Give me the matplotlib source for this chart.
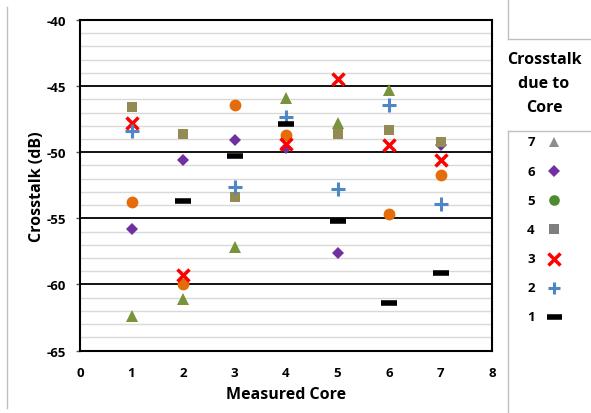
import numpy as np
import matplotlib
matplotlib.use("Agg")
import matplotlib.pyplot as plt
from matplotlib.lines import Line2D

plt.rcParams['font.family'] = ['Open Sans', 'DejaVu Sans']
plt.rcParams['font.weight'] = 'bold'
plt.rcParams['axes.unicode_minus'] = False

measured = [1, 2, 3, 4, 5, 6, 7]
nan = np.nan

# crosstalk (dB) on each measured core, due to core k
due_to = {
    7: [-62.4, -61.1, -57.2, -45.9, -47.8, -45.3, nan],
    6: [-55.8, -50.6, -49.1, -49.7, -57.6, nan, -49.45],
    5: [-53.8, -59.95, -46.4, -48.7, nan, -54.7, -51.7],
    4: [-46.6, -48.6, -53.4, nan, -48.6, -48.3, -49.2],
    3: [-47.8, -59.3, nan, -49.4, -44.5, -49.45, -50.6],
    2: [-48.4, nan, -52.6, -47.3, -52.75, -46.4, -53.9],
    1: [nan, -53.7, -50.25, -47.9, -55.2, -61.4, -59.1],
}

# marker, size, plot colour, legend colour, edge width
styles = {
    7: ('^', 8.5, '#77933C', '#8C8C8C', 0),
    6: ('D', 6.3, '#7030A0', '#7030A0', 0),
    5: ('o', 8.5, '#E46C0A', '#4E8A2E', 0),
    4: ('s', 7.5, '#948A54', '#7F7F7F', 0),
    3: ('x', 9, '#FF0000', '#FF0000', 2.5),
    2: ('+', 10, '#4F86C6', '#4F86C6', 2.2),
    1: ('_', 12, '#000000', '#000000', 4),
}

W, H = 591, 414
fig = plt.figure(figsize=(W / 100, H / 100), dpi=100)

ax = fig.add_axes([80 / W, 1 - 351.5 / H, 412 / W, 330.5 / H])
for k, vals in due_to.items():
    m, ms, c, lc, mew = styles[k]
    if mew:
        ax.plot(measured, vals, ls='none', marker=m, ms=ms, mec=c, mew=mew, zorder=3)
    else:
        ax.plot(measured, vals, ls='none', marker=m, ms=ms, mfc=c, mec=c, mew=0, zorder=3)

ax.set_xlim(0, 8)
ax.set_ylim(-65, -40)
ax.set_xticks(range(0, 9))
ax.set_yticks(range(-65, -39, 5))
ax.set_yticks(range(-65, -39, 1), minor=True)
ax.grid(which='minor', axis='y', color='#D9D9D9', lw=1)
ax.grid(which='major', axis='y', color='black', lw=1.3)
ax.tick_params(axis='y', which='minor', length=0)
ax.tick_params(axis='y', which='major', length=3, width=1, color='#595959', pad=7, labelsize=9.5)
ax.tick_params(axis='x', length=0, pad=11, labelsize=9.5)
for s in ax.spines.values():
    s.set_linewidth(1.5)
ax.set_xlabel('Measured Core', fontsize=11.5, fontweight='bold', labelpad=5)
ax.set_ylabel('Crosstalk (dB)', fontsize=11.5, fontweight='bold', labelpad=1)
ax.set_axisbelow(True)

# legend panel
leg = fig.add_axes([507.5 / W, 0, (W - 507.5) / W, (H - 131.5) / H])
leg.set_xlim(0, 1)
leg.set_ylim(1 - (414 - 318) / 29.17, 1 + (318 - 131.5) / 29.17)
leg.set_xticks([])
leg.set_yticks([])
for side in ['right', 'bottom']:
    leg.spines[side].set_visible(False)
for side in ['left', 'top']:
    leg.spines[side].set_color('#BFBFBF')
    leg.spines[side].set_linewidth(1)
for k in due_to:
    m, ms, c, lc, mew = styles[k]
    leg.text(0.28, k, str(k), ha='center', va='center', fontsize=9.5, fontweight='bold')
    if mew:
        leg.plot([0.56], [k], marker=m, ms=ms * 0.9, mec=lc, mew=mew, ls='none')
    else:
        leg.plot([0.56], [k], marker=m, ms=ms * 0.9, mfc=lc, mec=lc, mew=0, ls='none')

fig.text(544 / W, 1 - 84 / H, 'Crosstalk\ndue to\nCore', ha='center', va='center',
         fontsize=11.5, fontweight='bold', linespacing=1.65)

# chart border pieces
fig.add_artist(Line2D([507.5 / W, 507.5 / W], [1, 1 - 40 / H], color='#BFBFBF', lw=1))
fig.add_artist(Line2D([507.5 / W, 1], [1 - 40 / H, 1 - 40 / H], color='#BFBFBF', lw=1))
fig.add_artist(Line2D([6.5 / W, 6.5 / W], [1 - 8 / H, 1 - 409 / H], color='#BFBFBF', lw=1))

fig.savefig('out.png', dpi=100)
